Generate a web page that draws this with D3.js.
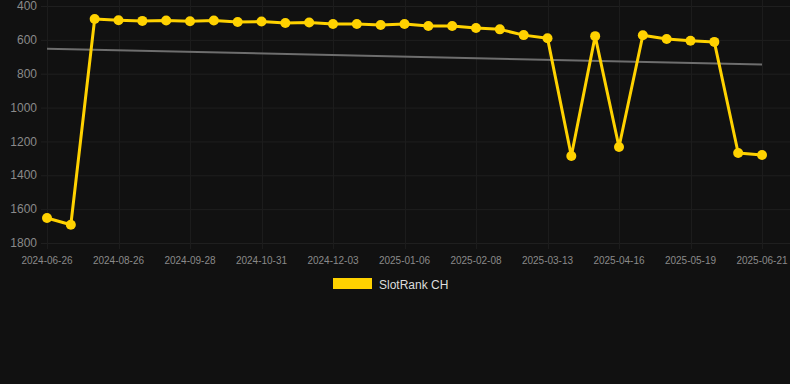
<!DOCTYPE html>
<html>
<head>
<meta charset="utf-8">
<script src="https://cdn.jsdelivr.net/npm/d3@7"></script>
<style>
  html, body { margin: 0; padding: 0; background: #111111; }
  svg { display: block; font-family: "Liberation Sans", Arial, sans-serif; }
</style>
</head>
<body>
<div id="chart"></div>
<script>
// category labels, one per data point
const dates = [
  "2024-06-26", "2024-08-04", "2024-08-15", "2024-08-26", "2024-09-06", "2024-09-17",
  "2024-09-28", "2024-10-09", "2024-10-20", "2024-10-31", "2024-11-11", "2024-11-22",
  "2024-12-03", "2024-12-14", "2024-12-25", "2025-01-06", "2025-01-17", "2025-01-28",
  "2025-02-08", "2025-02-19", "2025-03-02", "2025-03-13", "2025-03-24", "2025-04-04",
  "2025-04-16", "2025-04-27", "2025-05-08", "2025-05-19", "2025-05-30", "2025-06-10",
  "2025-06-21"
];

const rankCH = [
  1652, 1692, 477, 484, 488, 486, 490, 486, 494, 492, 500, 497,
  506, 506, 512, 506, 518, 518, 530, 538, 572, 590, 1286, 578,
  1233, 573, 595, 605, 612, 1268, 1280
];

// trend line end values (first and last category)
const trend = [652, 746];

const yTicks = [400, 600, 800, 1000, 1200, 1400, 1600, 1800];
const seriesName = "SlotRank CH";

const width = 790, height = 384;
const lineColor = "#FFD200";

const svg = d3.select("#chart").append("svg")
  .attr("width", width)
  .attr("height", height);

const x = d3.scalePoint()
  .domain(dates)
  .range([47, 762]);

const y = d3.scaleLinear()
  .domain([400, 1800])
  .range([6, 243]);

// horizontal grid + y labels
svg.append("g")
  .selectAll("line")
  .data(yTicks)
  .join("line")
  .attr("x1", 41)
  .attr("x2", 790)
  .attr("y1", d => y(d) + 0.5)
  .attr("y2", d => y(d) + 0.5)
  .attr("stroke", "#1f1f1f")
  .attr("stroke-width", 1);

svg.append("g")
  .selectAll("text")
  .data(yTicks)
  .join("text")
  .attr("x", 37)
  .attr("y", d => y(d))
  .attr("dy", "0.35em")
  .attr("text-anchor", "end")
  .attr("fill", "#8a8a8a")
  .attr("font-size", 12)
  .text(d => d);

// vertical grid + x labels, every third category
const xTicks = dates.filter((d, i) => i % 3 === 0);

svg.append("g")
  .selectAll("line")
  .data(xTicks)
  .join("line")
  .attr("x1", d => Math.round(x(d)) + 0.5)
  .attr("x2", d => Math.round(x(d)) + 0.5)
  .attr("y1", 0)
  .attr("y2", 249)
  .attr("stroke", "#1c1c1c")
  .attr("stroke-width", 1);

svg.append("g")
  .selectAll("text")
  .data(xTicks)
  .join("text")
  .attr("x", d => x(d))
  .attr("y", 260)
  .attr("dy", "0.35em")
  .attr("text-anchor", "middle")
  .attr("fill", "#8a8a8a")
  .attr("font-size", 10)
  .text(d => d);

// trend line
svg.append("line")
  .attr("x1", x(dates[0]))
  .attr("x2", x(dates[dates.length - 1]))
  .attr("y1", y(trend[0]))
  .attr("y2", y(trend[1]))
  .attr("stroke", "#6e6e6e")
  .attr("stroke-width", 2);

// main series
const line = d3.line()
  .x((d, i) => x(dates[i]))
  .y(d => y(d));

svg.append("path")
  .datum(rankCH)
  .attr("fill", "none")
  .attr("stroke", lineColor)
  .attr("stroke-width", 3)
  .attr("stroke-linejoin", "round")
  .attr("d", line);

svg.append("g")
  .selectAll("circle")
  .data(rankCH)
  .join("circle")
  .attr("cx", (d, i) => x(dates[i]))
  .attr("cy", d => y(d))
  .attr("r", 5)
  .attr("fill", lineColor);

// legend
const legend = svg.append("g").attr("transform", "translate(333,278)");
legend.append("rect")
  .attr("width", 39)
  .attr("height", 11)
  .attr("fill", lineColor);
legend.append("text")
  .attr("x", 46)
  .attr("y", 6.5)
  .attr("dy", "0.35em")
  .attr("fill", "#dddddd")
  .attr("font-size", 12)
  .text(seriesName);
</script>
</body>
</html>
